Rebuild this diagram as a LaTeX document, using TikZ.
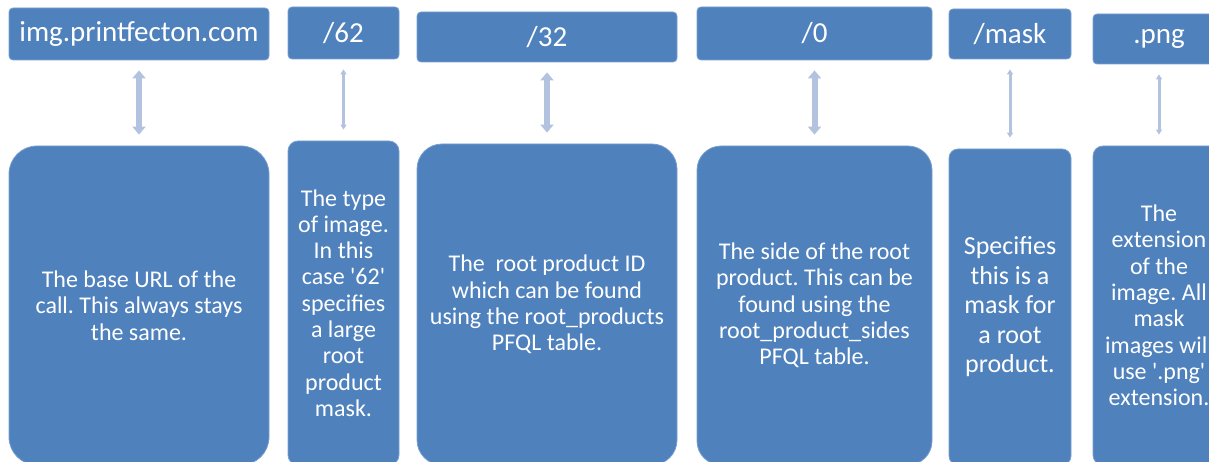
\documentclass[tikz,border=0pt]{standalone}
\usepackage{fontspec}
\setmainfont{Carlito}
\usetikzlibrary{arrows.meta}
\definecolor{boxblue}{HTML}{4F81BD}
\definecolor{boxedge}{HTML}{7A9FCF}
\definecolor{linkblue}{HTML}{B3C3DF}
\frenchspacing

\begin{document}
\begin{tikzpicture}[x=1pt, y=-1pt,
  box/.style={fill=boxblue, draw=boxedge, line width=0.8pt, text=white, inner sep=0pt, align=center},
  topbox/.style={box, rounded corners=4pt, font=\fontsize{29}{35}\selectfont},
  infobox/.style={box, font=\fontsize{24}{26.3}\selectfont},
  link/.style={draw=linkblue, line width=6pt, {Triangle[width=13pt,length=8pt]}-{Triangle[width=13pt,length=8pt]}, shorten <=10pt, shorten >=11pt},
  thinlink/.style={link, line width=3pt, {Triangle[width=6pt,length=5pt]}-{Triangle[width=6pt,length=5pt]}}]
\useasboundingbox (0,0) rectangle (1209,462);
\clip (0,0) rectangle (1209,462);

\node[topbox, minimum width=260pt, minimum height=52pt] (url) at (139, 34) {img.printfecton.com};
\node[topbox, minimum width=111pt, minimum height=52pt] (type) at (343.5, 33) {/62};
\node[topbox, minimum width=260pt, minimum height=50pt] (pid) at (547, 37) {/32};
\node[topbox, minimum width=235pt, minimum height=53pt] (side) at (814.5, 33.5) {/0};
\node[topbox, minimum width=122pt, minimum height=50pt] (mask) at (1010, 34) {/mask};
\node[topbox, minimum width=132pt, minimum height=50pt] (ext) at (1159, 39) {.png};

\node[infobox, rounded corners=28pt, minimum width=260pt, minimum height=319pt] (urlinfo) at (139, 305.5)
  {The base URL of the\\call. This always stays\\the same.};
\node[infobox, rounded corners=10pt, minimum width=111pt, minimum height=324pt] (typeinfo) at (343.5, 303)
  {The type\\of image.\\In this\\case \textquotesingle62\textquotesingle\\specifies\\a large\\root\\product\\mask.};
\node[infobox, rounded corners=25pt, minimum width=260pt, minimum height=321pt] (pidinfo) at (547, 304.5)
  {The~ root product ID\\which can be found\\using the root\_products\\PFQL table.};
\node[infobox, rounded corners=24pt, minimum width=235pt, minimum height=319pt] (sideinfo) at (814.5, 305.5)
  {The side of the root\\product. This can be\\found using the\\root\_product\_sides\\PFQL table.};
\node[infobox, rounded corners=9pt, minimum width=122pt, minimum height=316pt, font=\fontsize{26}{29.5}\selectfont] (maskinfo) at (1010, 307)
  {Specifies\\this is a\\mask for\\a root\\product.};
\node[infobox, rounded corners=10pt, minimum width=132pt, minimum height=319pt] (extinfo) at (1159, 305.5)
  {The\\extension\\of the\\image. All\\mask\\images will\\use \textquotesingle.png\textquotesingle\\extension.};

\draw[link] (url.south) -- (urlinfo.north);
\draw[thinlink] (type.south) -- (typeinfo.north);
\draw[link] (pid.south) -- (pidinfo.north);
\draw[link] (side.south) -- (sideinfo.north);
\draw[thinlink] (mask.south) -- (maskinfo.north);
\draw[thinlink] (ext.south) -- (extinfo.north);

\end{tikzpicture}
\end{document}
